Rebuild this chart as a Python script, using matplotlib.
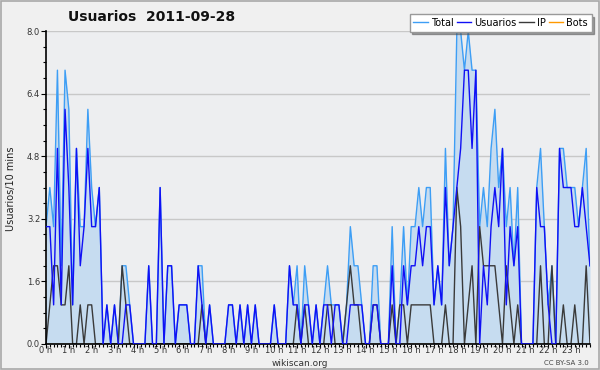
import matplotlib.pyplot as plt
from matplotlib.patches import Rectangle
from matplotlib.ticker import MultipleLocator

# one value per 10-minute slot, 0:00 .. 23:50
total = [3, 4, 3, 7, 2, 7, 6, 1, 5, 3, 3, 6, 4, 3, 4, 0, 1, 0, 1, 0, 2, 2, 1, 0,
         0, 0, 0, 2, 0, 0, 4, 0, 2, 2, 0, 1, 1, 1, 0, 0, 2, 2, 0, 1, 0, 0, 0, 0,
         1, 1, 0, 1, 0, 1, 0, 1, 0, 0, 0, 0, 1, 0, 0, 0, 2, 1, 2, 0, 2, 1, 0, 1,
         0, 1, 2, 1, 1, 1, 0, 1, 3, 2, 2, 1, 0, 0, 2, 2, 0, 0, 0, 3, 0, 1, 3, 1,
         3, 3, 4, 3, 4, 4, 1, 2, 1, 5, 2, 3, 8, 8, 7, 8, 7, 7, 3, 4, 3, 5, 6, 4,
         5, 3, 4, 2, 4, 0, 0, 0, 0, 4, 5, 3, 1, 2, 0, 5, 5, 4, 4, 4, 3, 4, 5, 2]
usuarios = [3, 3, 1, 5, 1, 6, 4, 1, 5, 2, 3, 5, 3, 3, 4, 0, 1, 0, 1, 0, 0, 1, 1, 0,
            0, 0, 0, 2, 0, 0, 4, 0, 2, 2, 0, 1, 1, 1, 0, 0, 2, 1, 0, 1, 0, 0, 0, 0,
            1, 1, 0, 1, 0, 1, 0, 1, 0, 0, 0, 0, 1, 0, 0, 0, 2, 1, 1, 0, 1, 1, 0, 1,
            0, 1, 1, 0, 1, 1, 0, 0, 1, 1, 1, 1, 0, 0, 1, 1, 0, 0, 0, 2, 0, 0, 2, 1,
            2, 2, 3, 2, 3, 3, 1, 2, 1, 4, 2, 3, 4, 5, 7, 7, 5, 7, 0, 2, 1, 3, 4, 3,
            5, 1, 3, 2, 3, 0, 0, 0, 0, 4, 3, 3, 1, 0, 0, 5, 4, 4, 4, 3, 3, 4, 3, 2]
ip = [0, 1, 2, 2, 1, 1, 2, 0, 0, 1, 0, 1, 1, 0, 0, 0, 0, 0, 0, 0, 2, 1, 0, 0,
      0, 0, 0, 0, 0, 0, 0, 0, 0, 0, 0, 0, 0, 0, 0, 0, 0, 1, 0, 0, 0, 0, 0, 0,
      0, 0, 0, 0, 0, 0, 0, 0, 0, 0, 0, 0, 0, 0, 0, 0, 0, 0, 1, 0, 1, 0, 0, 0,
      0, 0, 1, 1, 0, 0, 0, 1, 2, 1, 1, 0, 0, 0, 1, 1, 0, 0, 0, 1, 0, 1, 1, 0,
      1, 1, 1, 1, 1, 1, 0, 0, 0, 1, 0, 0, 4, 3, 0, 1, 2, 0, 3, 2, 2, 2, 2, 1,
      0, 2, 1, 0, 1, 0, 0, 0, 0, 0, 2, 0, 0, 2, 0, 0, 1, 0, 0, 1, 0, 0, 2, 0]
bots = [0, 0, 0, 0, 0, 0, 0, 0, 0, 0, 0, 0, 0, 0, 0, 0, 0, 0, 0, 0, 0, 0, 0, 0,
        0, 0, 0, 0, 0, 0, 0, 0, 0, 0, 0, 0, 0, 0, 0, 0, 0, 0, 0, 0, 0, 0, 0, 0,
        0, 0, 0, 0, 0, 0, 0, 0, 0, 0, 0, 0, 0, 0, 0, 0, 0, 0, 0, 0, 0, 0, 0, 0,
        0, 0, 0, 0, 0, 0, 0, 0, 0, 0, 0, 0, 0, 0, 0, 0, 0, 0, 0, 0, 0, 0, 0, 0,
        0, 0, 0, 0, 0, 0, 0, 0, 0, 0, 0, 0, 0, 0, 0, 0, 0, 0, 0, 0, 0, 0, 0, 0,
        0, 0, 0, 0, 0, 0, 0, 0, 0, 0, 0, 0, 0, 0, 0, 0, 0, 0, 0, 0, 0, 0, 0, 0]
hour_labels = ['%d h' % h for h in range(24)]
y_labels = ['0.0', '1.6', '3.2', '4.8', '6.4', '8.0']

slots = list(range(len(total)))

fig = plt.figure(figsize=(6, 3.7), dpi=100, facecolor='#f0f0f0')
# thin frame round the whole picture
fig.patches.append(Rectangle((0.001, 0.002), 0.997, 0.995, transform=fig.transFigure,
                             fill=False, edgecolor='#a8a8a8', lw=1.2))

ax = fig.add_axes([0.0767, 0.0703, 0.9066, 0.8457])
ax.set_facecolor('#edeef0')

ax.fill_between(slots, total, color='#c6dcf0', lw=0, zorder=1)
ax.plot(slots, bots, color='#ff9900', lw=1, zorder=1.5, label='Bots')
ax.plot(slots, total, color='#3d9ef5', lw=1, zorder=2, label='Total')
ax.plot(slots, usuarios, color='#1010f5', lw=1, zorder=3, label='Usuarios')
ax.plot(slots, ip, color='#3a3a3a', lw=1, zorder=2.5, label='IP')

ax.set_xlim(0, len(total) - 1)
ax.set_ylim(0, 8)

ax.set_yticks([float(v) for v in y_labels])
ax.set_yticklabels(y_labels)
ax.yaxis.set_minor_locator(MultipleLocator(0.4))
ax.set_xticks(range(0, 144, 6))
ax.set_xticklabels(hour_labels)
ax.xaxis.set_minor_locator(MultipleLocator(1))
ax.tick_params(axis='both', which='major', labelsize=6, labelcolor='#333333',
               length=3.5, width=0.8, pad=0.8)
ax.tick_params(axis='x', which='major', length=3, pad=-1.5)
ax.tick_params(axis='both', which='minor', length=2.5, width=0.8)

ax.grid(axis='y', color='#c8c8c8', lw=1, zorder=0)
ax.set_axisbelow(True)
for side in ['top', 'right']:
    ax.spines[side].set_visible(False)
for side in ['left', 'bottom']:
    ax.spines[side].set_linewidth(1.2)

handles, labels = ax.get_legend_handles_labels()
order = [1, 2, 3, 0]
leg = ax.legend([handles[i] for i in order], [labels[i] for i in order],
                ncol=4, loc='upper right', bbox_to_anchor=(1.003, 1.055),
                fontsize=7, frameon=True, fancybox=False, shadow=True,
                handlelength=1.5, handletextpad=0.3, columnspacing=0.3,
                borderpad=0.4, borderaxespad=0)
leg.get_frame().set_edgecolor('#999999')
leg.get_frame().set_linewidth(1)
leg.set_zorder(10)

fig.text(0.252, 0.955, 'Usuarios  2011-09-28', ha='center', va='center',
         fontsize=10, fontweight='bold', color='#111111')
fig.text(0.018, 0.49, 'Usuarios/10 mins', rotation=90, ha='center', va='center',
         fontsize=7, color='#222222')
fig.text(0.5, 0.018, 'wikiscan.org', ha='center', va='center', fontsize=6.5, color='#333333')
fig.text(0.982, 0.018, 'CC BY-SA 3.0', ha='right', va='center', fontsize=5, color='#444444')

fig.savefig('out.png', dpi=100, facecolor=fig.get_facecolor())
